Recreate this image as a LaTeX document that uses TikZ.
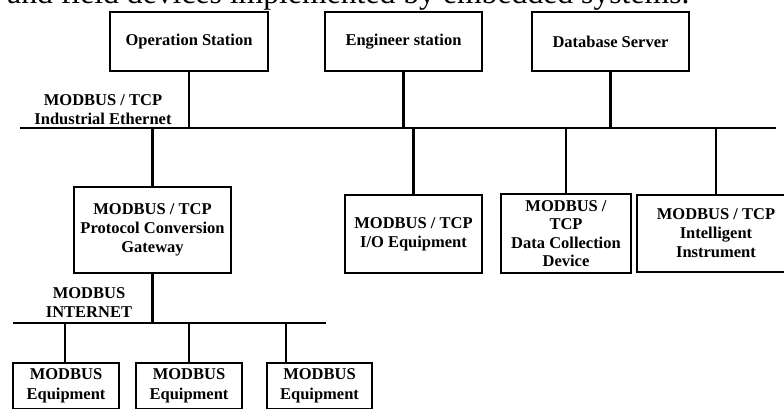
\documentclass[tikz,border=0pt]{standalone}
\usepackage{fontspec}
\setmainfont{Liberation Serif}
\begin{document}
\begin{tikzpicture}[x=1pt,y=-1pt,
  box/.style={draw, line width=2.6pt, inner sep=0pt, align=center,
    font=\fontsize{16.5}{19}\selectfont\bfseries},
  lbl/.style={inner sep=0pt, align=center,
    font=\fontsize{16.5}{19}\selectfont\bfseries},
  wire/.style={line width=2.6pt}]
\useasboundingbox (0,0) rectangle (784,408);
\clip (0,0) rectangle (784,408);
% cut-off caption line
\node[anchor=base west, inner sep=0pt, font=\fontsize{31.7}{36}\selectfont] (cap) at (7,3.5) {and field devices implemented by embedded systems.};
% top stations
\node[box, minimum width=158pt, minimum height=59pt] (op) at (189,41.5) {Operation Station};
\node[box, minimum width=157pt, minimum height=59pt] (eng) at (403.5,41.5) {Engineer station};
\node[box, minimum width=157pt, minimum height=59pt] (db) at (610.5,41.5) {Database Server};
% industrial ethernet bus
\coordinate (busL) at (20,128);
\coordinate (busR) at (776,128);
\draw[wire] (busL) -- (busR);
\node[lbl] (ethlbl) at (103,109.5) {MODBUS / TCP\\Industrial Ethernet};
\draw[wire] (op.south) -- (op.south |- busL);
\draw[wire] (eng.south) -- (eng.south |- busL);
\draw[wire] (db.south) -- (db.south |- busL);
% middle devices
\node[box, minimum width=157pt, minimum height=86pt] (gw) at (152.5,230) {MODBUS / TCP\\Protocol Conversion\\Gateway};
\node[box, minimum width=137pt, minimum height=78pt] (io) at (413.5,234) {MODBUS / TCP\\I/O Equipment};
\node[box, minimum width=130pt, minimum height=79pt] (dc) at (566,233.5) {MODBUS /\\[-0.5pt]TCP\\[-0.5pt]Data Collection\\[-0.5pt]Device};
\node[box, minimum width=158pt, minimum height=77pt] (ii) at (716,233.5) {MODBUS / TCP\\Intelligent\\Instrument};
\draw[wire] (gw.north) -- (gw.north |- busL);
\draw[wire] (io.north) -- (io.north |- busL);
\draw[wire] (dc.north) -- (dc.north |- busL);
\draw[wire] (ii.north) -- (ii.north |- busL);
% modbus bus
\coordinate (lbusL) at (13,323);
\coordinate (lbusR) at (326,323);
\draw[wire] (lbusL) -- (lbusR);
\node[lbl] (mblbl) at (89,303) {MODBUS\\INTERNET};
\draw[wire] (gw.south) -- (gw.south |- lbusL);
% equipment
\node[box, minimum width=106pt, minimum height=46pt] (eq1) at (66,386) {MODBUS\\[1pt]Equipment};
\node[box, minimum width=106pt, minimum height=46pt] (eq2) at (189,386) {MODBUS\\[1pt]Equipment};
\node[box, minimum width=105pt, minimum height=46pt] (eq3) at (319.5,386) {MODBUS\\[1pt]Equipment};
\coordinate (t1) at (65,323);
\coordinate (t3) at (286,323);
\draw[wire] (t1) -- (t1 |- eq1.north);
\draw[wire] (eq2.north) -- (eq2.north |- lbusL);
\draw[wire] (t3) -- (t3 |- eq3.north);
\end{tikzpicture}
\end{document}
